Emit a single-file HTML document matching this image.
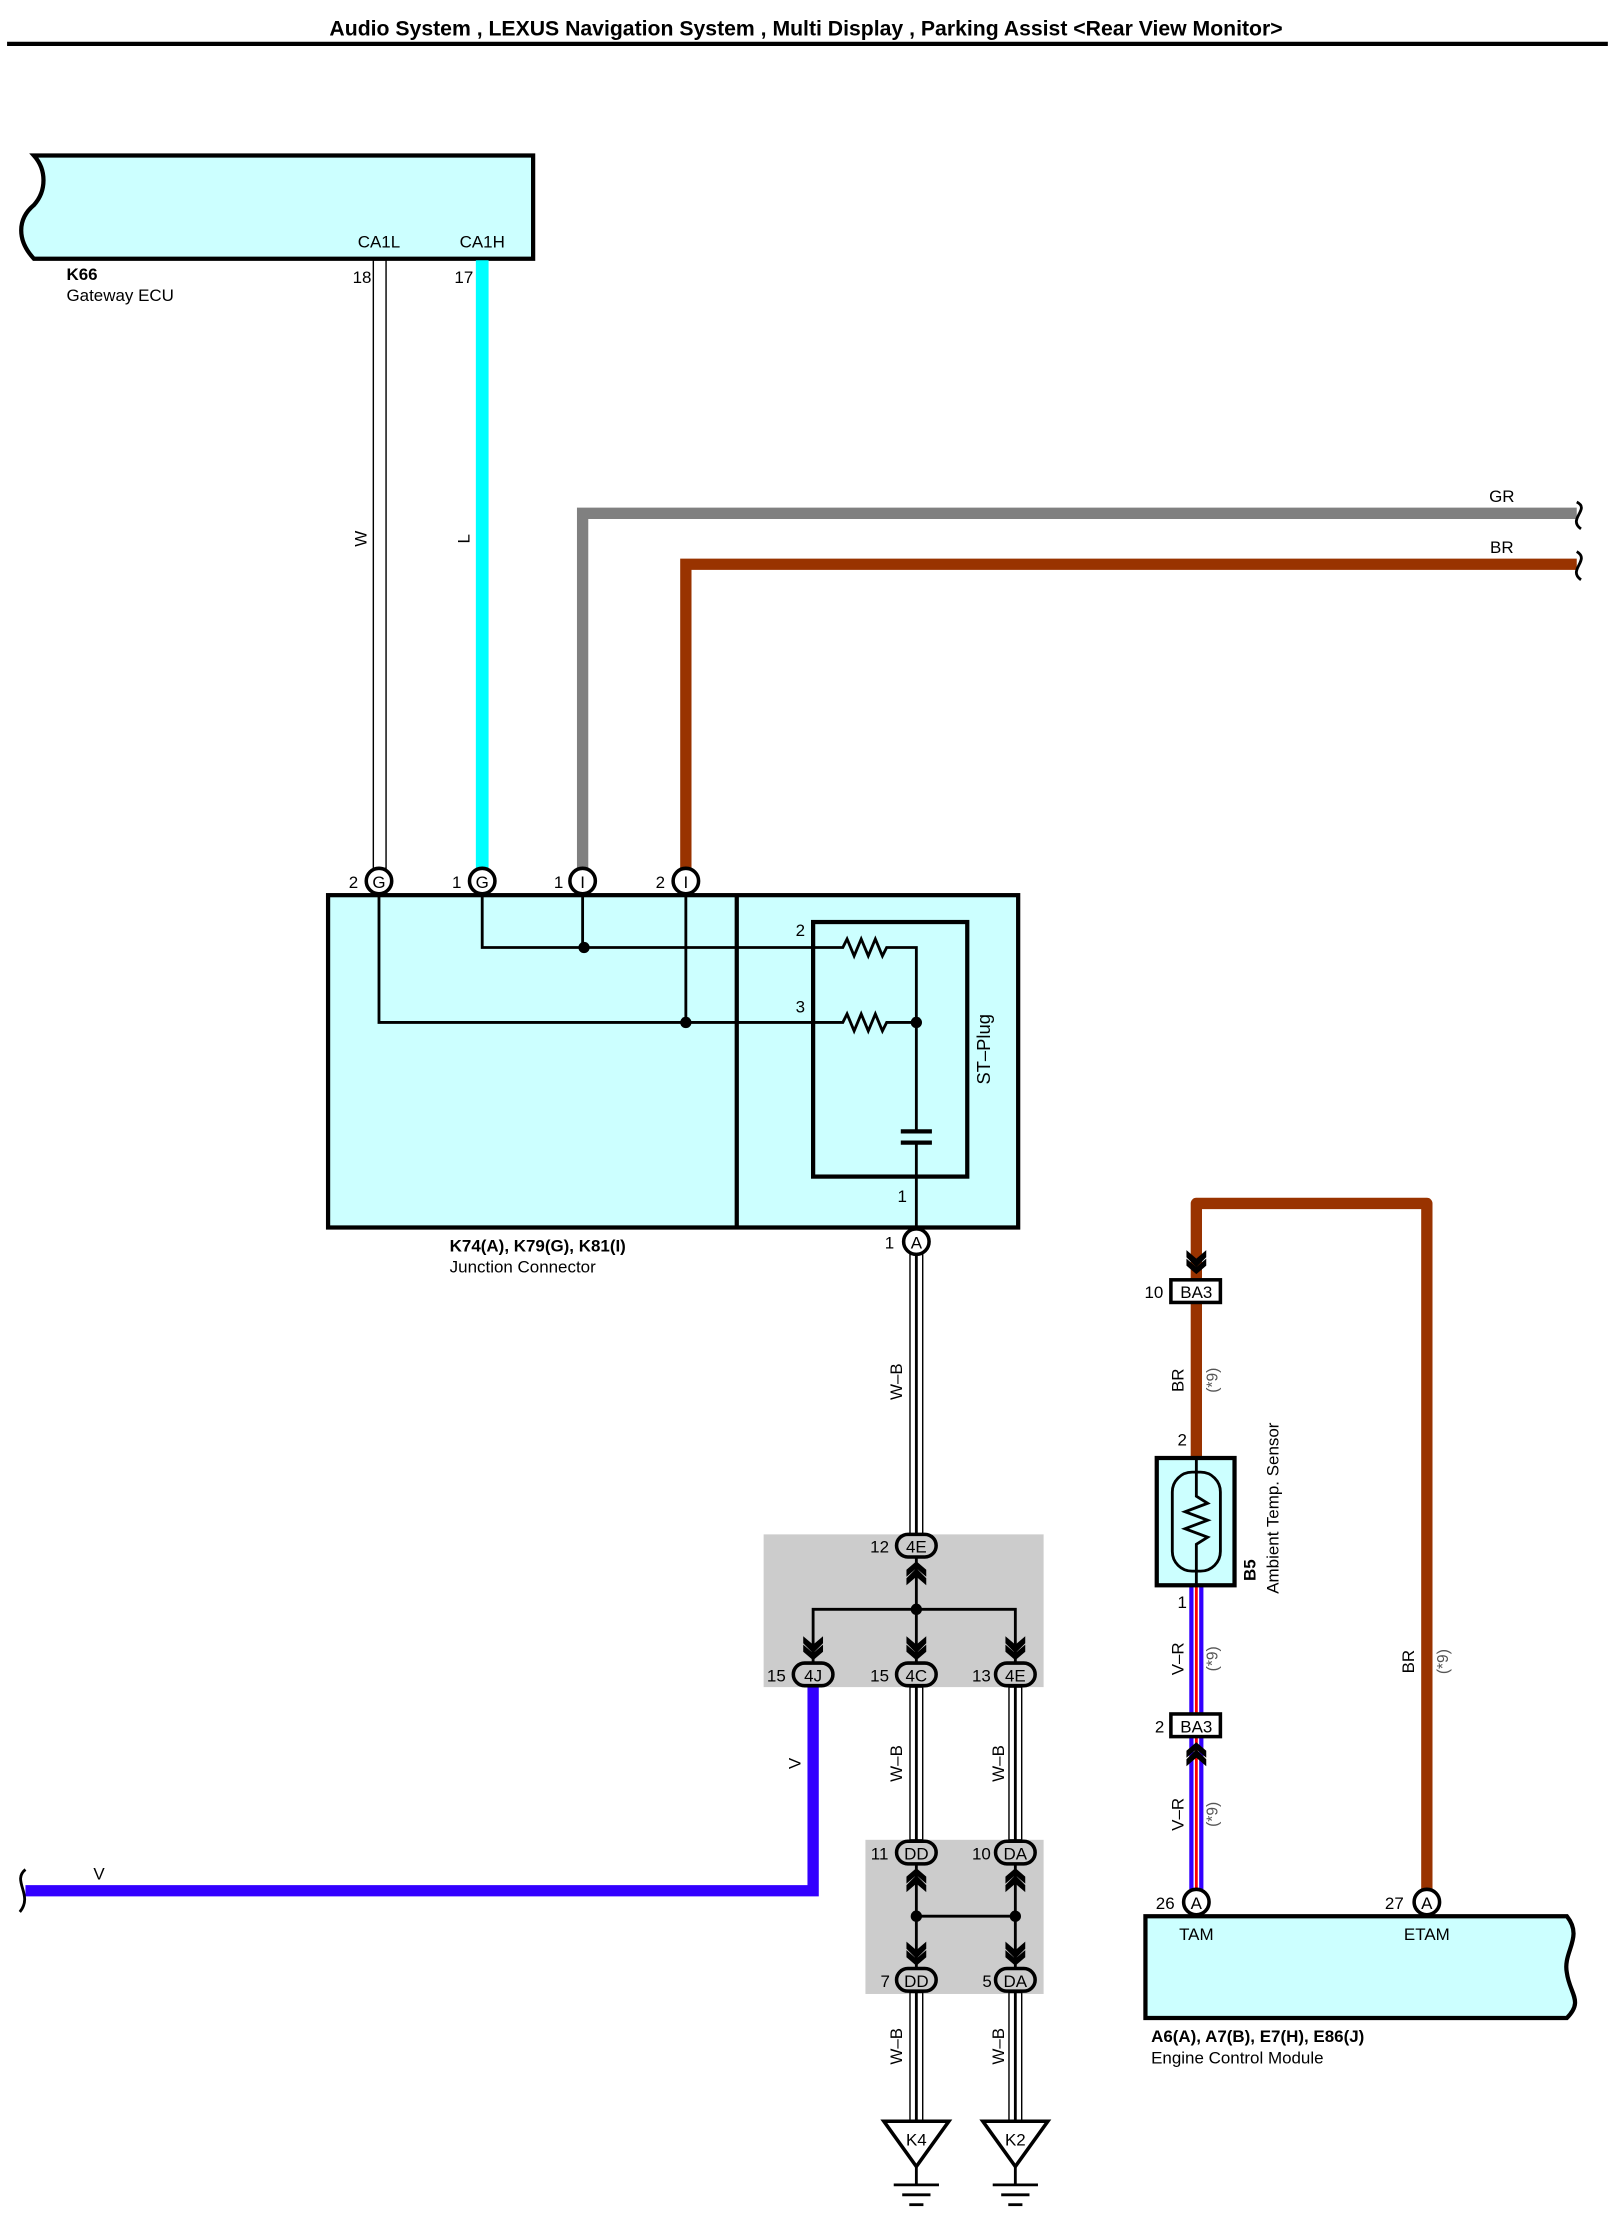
<!DOCTYPE html>
<html><head><meta charset="utf-8"><style>
html,body{margin:0;padding:0;background:#fff;}
svg{display:block;}
text{font-family:"Liberation Sans",sans-serif;font-size:12px;fill:#000;}
.b{font-weight:bold;}
</style></head><body>
<svg width="1622" height="2216" viewBox="0 0 1147 1567" preserveAspectRatio="none" xmlns="http://www.w3.org/2000/svg">
<defs>
<g id="chevD"><path d="M-7,-9 L0,-3 L7,-9 L7,-4 L0,3 L-7,-4 Z M-7,-3 L0,3 L7,-3 L7,2 L0,8 L-7,2 Z" fill="#000"/></g>
<g id="chevU"><path d="M-7,9 L0,3 L7,9 L7,4 L0,-3 L-7,4 Z M-7,3 L0,-3 L7,3 L7,-2 L0,-8 L-7,-2 Z" fill="#000"/></g>
</defs>
<text x="570" y="25" text-anchor="middle" class="b" style="font-size:15px">Audio System , LEXUS Navigation System , Multi Display , Parking Assist &lt;Rear View Monitor&gt;</text>
<line x1="5" y1="31" x2="1137" y2="31" stroke="#000" stroke-width="3"/>

<path d="M24,110 L377,110 L377,183 L24,183 C12,170 12,155 24,145 C33,135 33,120 24,110 Z" fill="#ccffff" stroke="#000" stroke-width="3"/>
<text x="268" y="175" text-anchor="middle">CA1L</text>
<text x="341" y="175" text-anchor="middle">CA1H</text>
<text x="47" y="198" class="b">K66</text>
<text x="47" y="213">Gateway ECU</text>
<text x="256" y="200" text-anchor="middle">18</text>
<text x="328" y="200" text-anchor="middle">17</text>

<rect x="264" y="184" width="9" height="430" fill="#fff" stroke="#000" stroke-width="1"/>
<text transform="translate(259,381) rotate(-90)" text-anchor="middle">W</text>
<line x1="341" y1="184" x2="341" y2="615" stroke="#00ffff" stroke-width="9"/>
<text transform="translate(332,381) rotate(-90)" text-anchor="middle">L</text>
<path d="M412,615 L412,363 L1115,363" fill="none" stroke="#808080" stroke-width="8"/>
<text x="1062" y="355" text-anchor="middle">GR</text>
<path d="M1115,355 C1125,360 1108,367 1118,374" fill="none" stroke="#000" stroke-width="2"/>
<path d="M485,615 L485,399 L1115,399" fill="none" stroke="#993300" stroke-width="8"/>
<text x="1062" y="391" text-anchor="middle">BR</text>
<path d="M1115,390 C1125,396 1108,403 1118,410" fill="none" stroke="#000" stroke-width="2"/>

<rect x="232" y="633" width="488" height="235" fill="#ccffff" stroke="#000" stroke-width="3"/>
<line x1="521" y1="633" x2="521" y2="868" stroke="#000" stroke-width="3"/>
<rect x="575" y="652" width="109" height="180" fill="none" stroke="#000" stroke-width="3"/>
<g fill="none" stroke="#000" stroke-width="2">
<path d="M341,632 L341,670 L596,670 L599,664 L604,676 L609,664 L614,676 L619,664 L624,676 L627,670 L648,670 L648,800"/>
<path d="M268,632 L268,723 L596,723 L599,717 L604,729 L609,717 L614,729 L619,717 L624,729 L627,723 L648,723"/>
<line x1="412" y1="632" x2="412" y2="670"/>
<line x1="485" y1="632" x2="485" y2="723"/>
<line x1="648" y1="808" x2="648" y2="869"/>
</g>
<line x1="637" y1="800" x2="659" y2="800" stroke="#000" stroke-width="3"/>
<line x1="637" y1="808" x2="659" y2="808" stroke="#000" stroke-width="3"/>
<circle cx="413" cy="670" r="4"/><circle cx="485" cy="723" r="4"/><circle cx="648" cy="723" r="4"/>
<text x="566" y="662" text-anchor="middle">2</text>
<text x="566" y="716" text-anchor="middle">3</text>
<text x="638" y="850" text-anchor="middle">1</text>
<text transform="translate(700,742) rotate(-90)" text-anchor="middle" style="font-size:13px">ST–Plug</text>
<text x="318" y="885" class="b">K74(A), K79(G), K81(I)</text>
<text x="318" y="900">Junction Connector</text>
<g fill="#fff" stroke="#000" stroke-width="2.5">
<circle cx="268" cy="623" r="9"/><circle cx="341" cy="623" r="9"/><circle cx="412" cy="623" r="9"/><circle cx="485" cy="623" r="9"/>
</g>
<text x="268" y="628" text-anchor="middle">G</text><text x="341" y="628" text-anchor="middle">G</text>
<text x="412" y="628" text-anchor="middle">I</text><text x="485" y="628" text-anchor="middle">I</text>
<text x="250" y="628" text-anchor="middle">2</text><text x="323" y="628" text-anchor="middle">1</text>
<text x="395" y="628" text-anchor="middle">1</text><text x="467" y="628" text-anchor="middle">2</text>

<rect x="643.5" y="887" width="9" height="198" fill="#fff" stroke="#000"/><line x1="648" y1="887" x2="648" y2="1085" stroke="#000" stroke-width="2"/>
<circle cx="648" cy="878" r="9" fill="#fff" stroke="#000" stroke-width="2.5"/>
<text x="648" y="883" text-anchor="middle">A</text><text x="629" y="883" text-anchor="middle">1</text>
<text transform="translate(638,977) rotate(-90)" text-anchor="middle">W–B</text>

<rect x="540" y="1085" width="198" height="108" fill="#cccccc"/>
<g fill="none" stroke="#000" stroke-width="2">
<line x1="648" y1="1102" x2="648" y2="1175"/>
<path d="M575,1175 L575,1138 L718,1138 L718,1175"/>
</g>
<circle cx="648" cy="1138" r="4"/>
<use href="#chevU" x="648" y="1112"/>
<use href="#chevD" x="575" y="1166"/><use href="#chevD" x="648" y="1166"/><use href="#chevD" x="718" y="1166"/>

<path d="M575,1193 L575,1337 L18,1337" fill="none" stroke="#3300ff" stroke-width="8"/>
<path d="M18,1322 C8,1330 24,1340 14,1352" fill="none" stroke="#000" stroke-width="2"/>
<text transform="translate(566,1247) rotate(-90)" text-anchor="middle">V</text>
<text x="70" y="1329" text-anchor="middle">V</text>

<rect x="643.5" y="1193" width="9" height="108" fill="#fff" stroke="#000"/><line x1="648" y1="1193" x2="648" y2="1301" stroke="#000" stroke-width="2"/>
<rect x="713.5" y="1193" width="9" height="108" fill="#fff" stroke="#000"/><line x1="718" y1="1193" x2="718" y2="1301" stroke="#000" stroke-width="2"/>
<text transform="translate(638,1247) rotate(-90)" text-anchor="middle">W–B</text>
<text transform="translate(710,1247) rotate(-90)" text-anchor="middle">W–B</text>

<rect x="612" y="1301" width="126" height="109" fill="#cccccc"/>
<g fill="none" stroke="#000" stroke-width="2">
<line x1="648" y1="1318" x2="648" y2="1392"/><line x1="718" y1="1318" x2="718" y2="1392"/>
<line x1="648" y1="1355" x2="718" y2="1355"/>
</g>
<circle cx="648" cy="1355" r="4"/><circle cx="718" cy="1355" r="4"/>
<use href="#chevU" x="648" y="1329"/><use href="#chevU" x="718" y="1329"/>
<use href="#chevD" x="648" y="1382"/><use href="#chevD" x="718" y="1382"/>

<g fill="#cccccc" stroke="#000" stroke-width="2.5">
<rect x="634" y="1085" width="28" height="16" rx="8"/>
<rect x="561" y="1176" width="28" height="16" rx="8"/>
<rect x="634" y="1176" width="28" height="16" rx="8"/>
<rect x="704" y="1176" width="28" height="16" rx="8"/>
<rect x="634" y="1302" width="28" height="16" rx="8"/>
<rect x="704" y="1302" width="28" height="16" rx="8"/>
<rect x="634" y="1392" width="28" height="16" rx="8"/>
<rect x="704" y="1392" width="28" height="16" rx="8"/>
</g>
<g text-anchor="middle">
<text x="648" y="1098">4E</text><text x="622" y="1098">12</text>
<text x="575" y="1189">4J</text><text x="549" y="1189">15</text>
<text x="648" y="1189">4C</text><text x="622" y="1189">15</text>
<text x="718" y="1189">4E</text><text x="694" y="1189">13</text>
<text x="648" y="1315">DD</text><text x="622" y="1315">11</text>
<text x="718" y="1315">DA</text><text x="694" y="1315">10</text>
<text x="648" y="1405">DD</text><text x="626" y="1405">7</text>
<text x="718" y="1405">DA</text><text x="698" y="1405">5</text>
</g>

<rect x="643.5" y="1409" width="9" height="92" fill="#fff" stroke="#000"/><line x1="648" y1="1409" x2="648" y2="1501" stroke="#000" stroke-width="2"/>
<rect x="713.5" y="1409" width="9" height="92" fill="#fff" stroke="#000"/><line x1="718" y1="1409" x2="718" y2="1501" stroke="#000" stroke-width="2"/>
<text transform="translate(638,1447) rotate(-90)" text-anchor="middle">W–B</text>
<text transform="translate(710,1447) rotate(-90)" text-anchor="middle">W–B</text>
<g fill="#fff" stroke="#000" stroke-width="2.5">
<path d="M625,1500 L671,1500 L648,1532 Z"/><path d="M695,1500 L741,1500 L718,1532 Z"/>
</g>
<g stroke="#000" stroke-width="2">
<line x1="648" y1="1532" x2="648" y2="1545"/><line x1="718" y1="1532" x2="718" y2="1545"/>
<line x1="632" y1="1545" x2="664" y2="1545"/><line x1="638" y1="1552" x2="658" y2="1552"/><line x1="643" y1="1559" x2="653" y2="1559"/>
<line x1="702" y1="1545" x2="734" y2="1545"/><line x1="708" y1="1552" x2="728" y2="1552"/><line x1="713" y1="1559" x2="723" y2="1559"/>
</g>
<text x="648" y="1517" text-anchor="middle">K4</text><text x="718" y="1517" text-anchor="middle">K2</text>

<path d="M846,1030 L846,851 L1009,851 L1009,1337" fill="none" stroke="#993300" stroke-width="8" stroke-linejoin="round"/>
<use href="#chevD" x="846" y="893"/>
<rect x="828" y="905" width="35" height="16" fill="#fff" stroke="#000" stroke-width="2.5"/>
<text x="846" y="918" text-anchor="middle">BA3</text><text x="816" y="918" text-anchor="middle">10</text>
<text transform="translate(837,976) rotate(-90)" text-anchor="middle">BR</text>
<text transform="translate(861,976) rotate(-90)" text-anchor="middle" style="font-size:11px;fill:#555">(*9)</text>
<text transform="translate(1000,1175) rotate(-90)" text-anchor="middle">BR</text>
<text transform="translate(1024,1175) rotate(-90)" text-anchor="middle" style="font-size:11px;fill:#555">(*9)</text>

<rect x="841" y="1121" width="10" height="215" fill="#3300ff"/>
<line x1="846" y1="1121" x2="846" y2="1336" stroke="#fff" stroke-width="4"/>
<line x1="846" y1="1121" x2="846" y2="1336" stroke="#ff0000" stroke-width="2"/>
<rect x="828" y="1212" width="35" height="16" fill="#fff" stroke="#000" stroke-width="2.5"/>
<text x="846" y="1225" text-anchor="middle">BA3</text><text x="820" y="1225" text-anchor="middle">2</text>
<use href="#chevU" x="846" y="1240"/>
<text transform="translate(837,1173) rotate(-90)" text-anchor="middle">V–R</text>
<text transform="translate(861,1173) rotate(-90)" text-anchor="middle" style="font-size:11px;fill:#555">(*9)</text>
<text transform="translate(837,1283) rotate(-90)" text-anchor="middle">V–R</text>
<text transform="translate(861,1283) rotate(-90)" text-anchor="middle" style="font-size:11px;fill:#555">(*9)</text>

<rect x="818" y="1031" width="55" height="90" fill="#ccffff" stroke="#000" stroke-width="3"/>
<rect x="829" y="1041" width="34" height="70" rx="14" fill="none" stroke="#000" stroke-width="2"/>
<path d="M846,1031 L846,1058 L854,1063 L838,1069 L854,1075 L838,1081 L854,1087 L846,1092 L846,1121" fill="none" stroke="#000" stroke-width="2"/>
<text x="836" y="1022" text-anchor="middle">2</text><text x="836" y="1137" text-anchor="middle">1</text>
<text transform="translate(888,1118) rotate(-90)" class="b">B5</text>
<text transform="translate(904,1127) rotate(-90)">Ambient Temp.  Sensor</text>

<path d="M810,1355 L1108,1355 C1120,1370 1105,1380 1108,1395 C1110,1410 1120,1415 1108,1427 L810,1427 Z" fill="#ccffff" stroke="#000" stroke-width="3"/>
<g fill="#fff" stroke="#000" stroke-width="2.5"><circle cx="846" cy="1345" r="9"/><circle cx="1009" cy="1345" r="9"/></g>
<text x="846" y="1350" text-anchor="middle">A</text><text x="1009" y="1350" text-anchor="middle">A</text>
<text x="824" y="1350" text-anchor="middle">26</text><text x="986" y="1350" text-anchor="middle">27</text>
<text x="846" y="1372" text-anchor="middle">TAM</text><text x="1009" y="1372" text-anchor="middle">ETAM</text>
<text x="814" y="1444" class="b">A6(A), A7(B), E7(H), E86(J)</text>
<text x="814" y="1459">Engine Control Module</text>
</svg>
</body></html>
